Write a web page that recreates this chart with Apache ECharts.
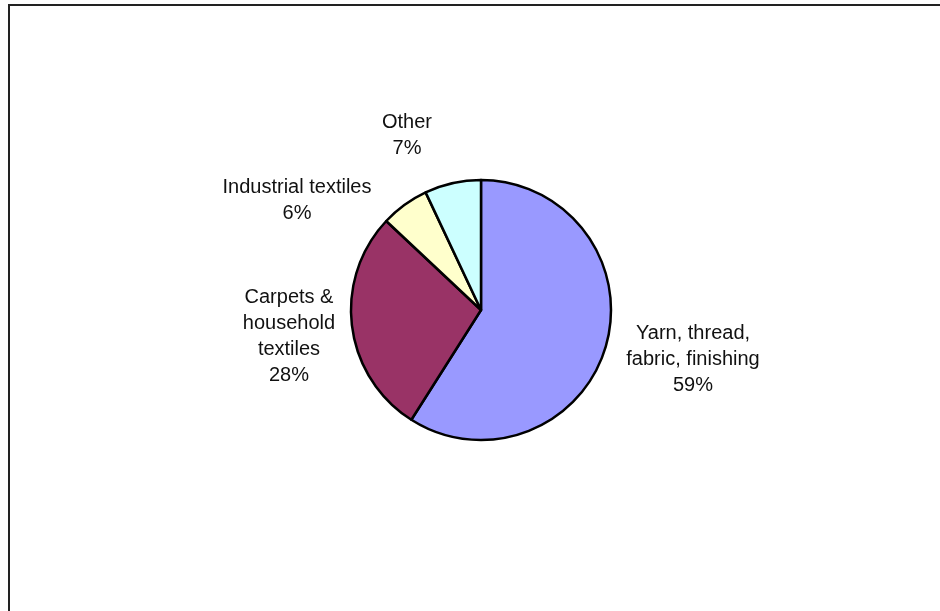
<!DOCTYPE html>
<html>
<head>
<meta charset="UTF-8">
<title>pie</title>
<script src="https://cdn.jsdelivr.net/npm/echarts@6/dist/echarts.min.js"></script>
<style>
  html, body { margin: 0; padding: 0; background: #fff; }
  #chart { width: 940px; height: 611px; }
</style>
</head>
<body>
<div id="chart"></div>
<script>
// data
var categories = ['Yarn, thread,\nfabric, finishing', 'Carpets &\nhousehold\ntextiles', 'Industrial textiles', 'Other'];
var values = [59, 28, 6, 7];
var colors = ['#9999FF', '#993366', '#FFFFCC', '#CCFFFF'];

// label centres (layout only)
var labelPos = [[693, 359], [289, 336], [297, 200], [407, 135]];

var chart = echarts.init(document.getElementById('chart'));

var pieData = categories.map(function (name, i) {
  return { name: name, value: values[i], itemStyle: { color: colors[i] } };
});

chart.setOption({
  animation: false,
  graphic: [{
    type: 'rect',
    shape: { x: 9, y: 5, width: 1000, height: 1000 },
    style: { fill: 'none', stroke: '#222', lineWidth: 2 }
  }],
  series: [{
    type: 'pie',
    center: [481, 310],
    radius: 130,
    startAngle: 90,
    clockwise: true,
    avoidLabelOverlap: false,
    itemStyle: { borderColor: '#000', borderWidth: 2.5 },
    label: {
      show: true,
      formatter: '{b}\n{d}%',
      fontFamily: '"Liberation Sans", Arial, sans-serif',
      fontSize: 20,
      lineHeight: 26,
      color: '#111',
      align: 'center'
    },
    labelLine: { show: false },
    labelLayout: function (p) {
      var pos = labelPos[p.dataIndex];
      return { x: pos[0], y: pos[1], align: 'center', verticalAlign: 'middle' };
    },
    emphasis: { disabled: true },
    data: pieData
  }]
});
</script>
</body>
</html>
